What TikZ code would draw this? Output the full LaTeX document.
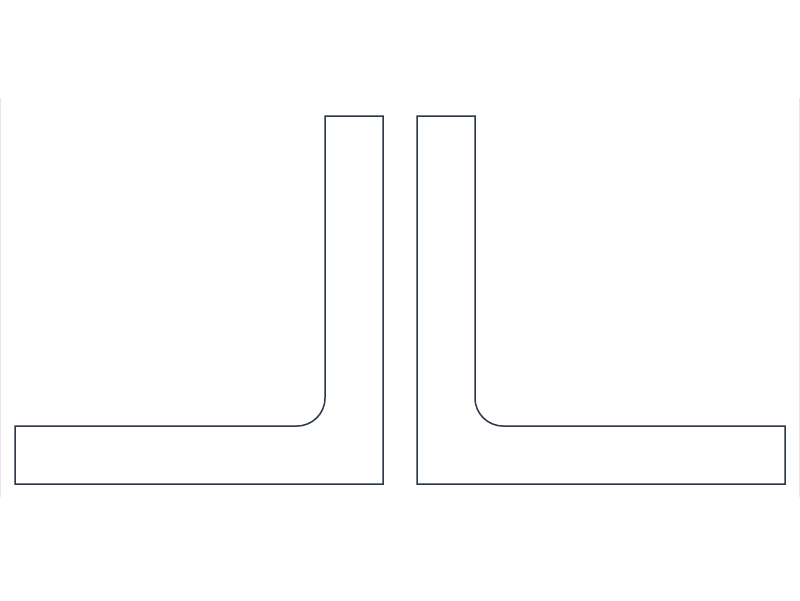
\documentclass[tikz,border=0pt]{standalone}
\definecolor{edge}{HTML}{2B3845}
\definecolor{faint}{HTML}{E4E4E4}
\begin{document}
\begin{tikzpicture}[x=1pt,y=-1pt,
  lshape/.style={draw=edge,line width=1.5pt,line join=miter,fill=white},
  rim/.style={draw=faint,line width=1.2pt}]
\useasboundingbox (0,0) rectangle (800,600);
\fill[white] (0,0) rectangle (800,600);
\draw[rim] (0.8,98) -- (0.8,497);
\draw[rim] (799.2,98) -- (799.2,497);
% left L
\draw[lshape] (15,426) -- (297,426) arc[start angle=90,end angle=0,radius=28] -- (325,116)
  -- (383,116) -- (383,484) -- (15,484) -- cycle;
% right L
\draw[lshape] (785,426) -- (503,426) arc[start angle=90,end angle=180,radius=28] -- (475,116)
  -- (417,116) -- (417,484) -- (785,484) -- cycle;
\end{tikzpicture}
\end{document}
